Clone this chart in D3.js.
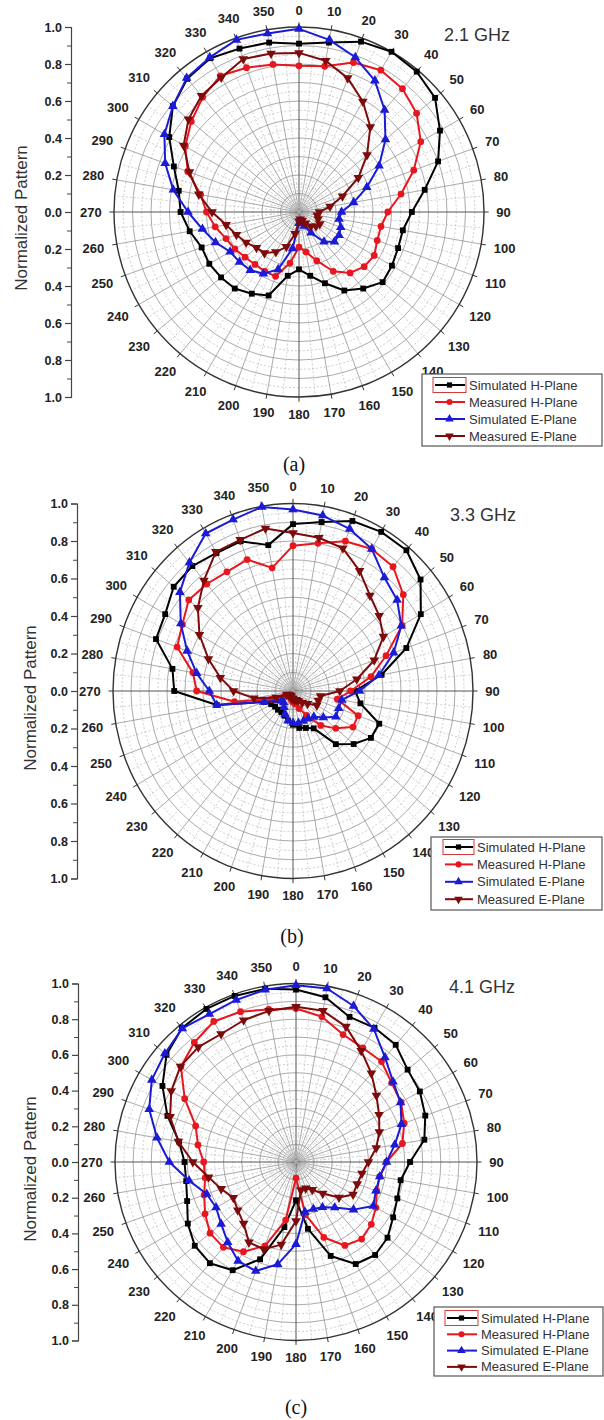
<!DOCTYPE html>
<html><head><meta charset="utf-8">
<script src="https://cdn.jsdelivr.net/npm/d3@7/dist/d3.min.js"></script>
<style>body{margin:0;background:#fff} svg{display:block}</style>
</head><body>
<svg id="chart" width="604" height="1420"></svg>
<script>
// ---------- DATA ----------
const angleDeg = [0,10,20,30,40,50,60,70,80,90,100,110,120,130,140,150,160,170,180,190,200,210,220,230,240,250,260,270,280,290,300,310,320,330,340,350];
const radialTickValues = [-1,-0.8,-0.6,-0.4,-0.2,0,0.2,0.4,0.6,0.8,1];
const seriesNames = ["Simulated H-Plane","Measured H-Plane","Simulated E-Plane","Measured E-Plane"];
const freqLabels = ["2.1 GHz","3.3 GHz","4.1 GHz"];
const captions = ["(a)","(b)","(c)"];
const axisTitle = "Normalized Pattern";

// (a) 2.1 GHz
const simH_a  = [0.91,0.93,0.98,1.0,0.99,0.96,0.88,0.80,0.69,0.61,0.57,0.57,0.58,0.59,0.54,0.49,0.41,0.35,0.31,0.35,0.48,0.51,0.54,0.55,0.56,0.56,0.60,0.64,0.66,0.72,0.81,0.89,0.94,0.96,0.94,0.93];
const measH_a = [0.79,0.80,0.86,0.885,0.87,0.83,0.76,0.66,0.56,0.48,0.45,0.45,0.47,0.46,0.43,0.37,0.28,0.22,0.19,0.28,0.37,0.37,0.37,0.38,0.40,0.42,0.46,0.50,0.54,0.64,0.71,0.76,0.81,0.85,0.83,0.81];
const simE_a  = [0.99,0.945,0.89,0.82,0.72,0.61,0.50,0.39,0.30,0.23,0.22,0.24,0.25,0.25,0.21,0.13,0.08,0.05,0.06,0.20,0.33,0.385,0.41,0.42,0.43,0.48,0.53,0.60,0.69,0.77,0.84,0.89,0.945,0.965,0.99,0.98];
const measE_a = [0.86,0.83,0.77,0.69,0.60,0.48,0.37,0.25,0.17,0.11,0.10,0.11,0.13,0.12,0.10,0.07,0.05,0.04,0.05,0.12,0.20,0.25,0.29,0.30,0.33,0.36,0.40,0.47,0.55,0.63,0.72,0.78,0.82,0.84,0.88,0.87];

// (b) 3.3 GHz
const simH_b  = [0.89,0.915,0.965,0.98,0.98,0.925,0.82,0.67,0.50,0.345,0.38,0.51,0.50,0.44,0.37,0.23,0.21,0.20,0.18,0.16,0.14,0.13,0.13,0.13,0.14,0.17,0.43,0.66,0.68,0.81,0.82,0.865,0.87,0.85,0.85,0.79];
const measH_b = [0.775,0.80,0.85,0.875,0.865,0.80,0.70,0.55,0.44,0.32,0.25,0.385,0.385,0.31,0.24,0.15,0.10,0.07,0.06,0.05,0.04,0.03,0.03,0.04,0.06,0.13,0.33,0.535,0.565,0.685,0.71,0.756,0.745,0.734,0.746,0.667];
const simE_b  = [0.968,0.95,0.92,0.875,0.79,0.755,0.695,0.595,0.485,0.37,0.275,0.27,0.275,0.22,0.18,0.17,0.17,0.173,0.17,0.16,0.13,0.10,0.08,0.08,0.10,0.17,0.43,0.465,0.543,0.626,0.72,0.82,0.895,0.97,0.973,0.997];
const measE_b = [0.843,0.83,0.81,0.74,0.665,0.625,0.58,0.48,0.36,0.26,0.155,0.15,0.153,0.106,0.08,0.06,0.05,0.05,0.04,0.04,0.03,0.03,0.03,0.03,0.04,0.10,0.22,0.33,0.41,0.50,0.60,0.69,0.77,0.857,0.858,0.88];

// (c) 4.1 GHz
const simH_c  = [0.966,0.937,0.865,0.868,0.857,0.805,0.79,0.76,0.72,0.63,0.587,0.596,0.62,0.66,0.68,0.66,0.56,0.38,0.215,0.37,0.58,0.70,0.74,0.73,0.69,0.64,0.616,0.616,0.656,0.756,0.852,0.934,0.98,0.99,0.99,0.985];
const measH_c = [0.86,0.826,0.76,0.738,0.735,0.69,0.67,0.636,0.597,0.50,0.47,0.475,0.51,0.543,0.564,0.54,0.45,0.30,0.09,0.33,0.50,0.58,0.624,0.62,0.58,0.54,0.51,0.51,0.55,0.59,0.71,0.83,0.874,0.909,0.896,0.868];
const simE_c  = [0.99,0.987,0.93,0.86,0.765,0.70,0.667,0.62,0.554,0.50,0.47,0.47,0.493,0.415,0.333,0.293,0.28,0.284,0.46,0.582,0.65,0.64,0.587,0.54,0.51,0.525,0.60,0.70,0.78,0.863,0.92,0.946,0.977,0.957,0.966,0.98];
const measE_c = [0.87,0.86,0.807,0.72,0.648,0.58,0.53,0.49,0.45,0.40,0.37,0.36,0.364,0.31,0.23,0.18,0.157,0.16,0.33,0.47,0.52,0.52,0.45,0.42,0.40,0.44,0.49,0.57,0.66,0.74,0.796,0.833,0.84,0.828,0.845,0.86];

// ---------- STYLE / LAYOUT ----------
const seriesStyle = [
  {color:"#000000", symbol:d3.symbolSquare,   rot:0,   size:34},
  {color:"#e8161e", symbol:d3.symbolCircle,   rot:0,   size:36},
  {color:"#1b1bd6", symbol:d3.symbolTriangle, rot:0,   size:40},
  {color:"#7d0b0b", symbol:d3.symbolTriangle, rot:180, size:40}
];
const panels = [
  {cx:299, cy:212,  rx:185, ry:185,   axisX:71, titleX:21, titleY:218,
   freqX:477, freqY:41,  leg:{x:422, y:374,  w:180, h:72, row0:385,  dy:17,   s0:433, s1:466, tx:469},
   capX:294, capY:471,  data:[simH_a, measH_a, simE_a, measE_a]},
  {cx:293, cy:691,  rx:180, ry:187.5, axisX:77, titleX:30, titleY:698,
   freqX:483, freqY:521, leg:{x:431, y:837,  w:171, h:73, row0:847,  dy:17.4, s0:443, s1:474, tx:477},
   capX:292, capY:943,  data:[simH_b, measH_b, simE_b, measE_b]},
  {cx:296, cy:1162, rx:181, ry:178.5, axisX:78, titleX:30, titleY:1169,
   freqX:482, freqY:993, leg:{x:434, y:1307, w:169, h:69, row0:1318, dy:16.3, s0:445, s1:478, tx:481},
   capX:296, capY:1414, data:[simH_c, measH_c, simE_c, measE_c]}
];
const SANS = "'Liberation Sans', Arial, Helvetica, sans-serif";
const SERIF = "'Liberation Serif', 'Times New Roman', serif";

const svg = d3.select("#chart");

function drawPanel(p, idx) {
  const g = svg.append("g");
  const rX = d3.scaleLinear().domain([0,1]).range([0,p.rx]);
  const rY = d3.scaleLinear().domain([0,1]).range([0,p.ry]);
  const ang = d3.scaleLinear().domain([0,360]).range([0,2*Math.PI]);
  const px = (deg,v) => p.cx + rX(v)*Math.sin(ang(deg));
  const py = (deg,v) => p.cy - rY(v)*Math.cos(ang(deg));

  // grid: concentric ellipses
  const grid = g.append("g");
  d3.range(1,20).forEach(i => {
    const v = i/20;
    const major = i % 2 === 0;
    grid.append("ellipse").attr("cx",p.cx).attr("cy",p.cy)
      .attr("rx",rX(v)).attr("ry",rY(v)).attr("fill","none")
      .attr("stroke", major ? "#a0a0a0" : "#c0c0c0")
      .attr("stroke-width", major ? 0.9 : 0.8)
      .attr("stroke-dasharray", major ? null : "2,2");
  });
  // radial lines
  d3.range(0,360,5).forEach(d => {
    const major = d % 10 === 0;
    const axisLine = d % 90 === 0;
    grid.append("line")
      .attr("x1",p.cx).attr("y1",p.cy).attr("x2",px(d,1)).attr("y2",py(d,1))
      .attr("stroke", axisLine ? "#555" : (major ? "#969696" : "#c0c0c0"))
      .attr("stroke-width", axisLine ? 1 : 0.8)
      .attr("stroke-dasharray", major ? null : "2,2");
  });
  // outer boundary + ticks
  grid.append("ellipse").attr("cx",p.cx).attr("cy",p.cy).attr("rx",rX(1)).attr("ry",rY(1))
    .attr("fill","none").attr("stroke","#333").attr("stroke-width",1.4);
  angleDeg.forEach(d => {
    grid.append("line").attr("x1",px(d,1)).attr("y1",py(d,1))
      .attr("x2",px(d,1.025)).attr("y2",py(d,1.025)).attr("stroke","#333").attr("stroke-width",1);
  });

  // angle labels
  angleDeg.forEach(d => {
    const t = ang(d);
    const w = String(d).length * 7.4, h = 10;
    const off = 12 + Math.abs(Math.sin(t))*w/2 + Math.abs(Math.cos(t))*h/2;
    g.append("text").attr("x", p.cx + (p.rx+off)*Math.sin(t)).attr("y", p.cy - (p.ry+off)*Math.cos(t))
      .attr("text-anchor","middle").attr("dominant-baseline","central")
      .attr("font-family",SANS).attr("font-weight","bold").attr("font-size","13px").attr("fill","#222")
      .text(d);
  });

  // series
  p.data.forEach((vals, si) => {
    const st = seriesStyle[si];
    const pts = angleDeg.map((d,i) => [px(d,vals[i]), py(d,vals[i])]);
    g.append("path").attr("d", d3.line().curve(d3.curveLinearClosed)(pts))
      .attr("fill","none").attr("stroke",st.color).attr("stroke-width",2).attr("stroke-linejoin","round");
    const sym = d3.symbol().type(st.symbol).size(st.size);
    g.append("g").selectAll("path").data(pts).join("path")
      .attr("d", sym())
      .attr("transform", q => `translate(${q[0]},${q[1]}) rotate(${st.rot})`)
      .attr("fill", st.color);
  });

  // left axis
  const yAx = d3.scaleLinear().domain([-1,1]).range([p.cy - p.ry, p.cy + p.ry]);
  const ax = g.append("g").attr("transform",`translate(${p.axisX},0)`)
    .call(d3.axisLeft(yAx).tickValues(radialTickValues).tickSize(6).tickPadding(3)
      .tickFormat(v => Math.abs(v).toFixed(1)));
  ax.select(".domain").attr("stroke","#444").attr("stroke-width",1.2);
  ax.selectAll(".tick line").attr("stroke","#444").attr("stroke-width",1.2);
  ax.selectAll(".tick text").attr("font-family",SANS).attr("font-weight","bold")
    .attr("font-size","12.5px").attr("fill","#222");
  const axm = g.append("g").attr("transform",`translate(${p.axisX},0)`)
    .call(d3.axisLeft(yAx).tickValues(d3.range(-0.9,1,0.2)).tickSize(4).tickFormat(""));
  axm.select(".domain").remove();
  axm.selectAll(".tick line").attr("stroke","#444");

  g.append("text").attr("transform",`translate(${p.titleX},${p.titleY}) rotate(-90)`)
    .attr("text-anchor","middle").attr("dominant-baseline","central")
    .attr("font-family",SANS).attr("font-size","17px").attr("fill","#333").text(axisTitle);

  // frequency
  g.append("text").attr("x",p.freqX).attr("y",p.freqY).attr("text-anchor","middle")
    .attr("font-family",SANS).attr("font-size","18px").attr("fill","#333").text(freqLabels[idx]);

  // legend
  const L = p.leg;
  const lg = g.append("g");
  lg.append("rect").attr("x",L.x).attr("y",L.y).attr("width",L.w).attr("height",L.h)
    .attr("fill","#fff").attr("stroke","#555").attr("stroke-width",1.2);
  seriesNames.forEach((name, si) => {
    const st = seriesStyle[si];
    const yy = L.row0 + si*L.dy;
    if (si === 0) {
      lg.append("rect").attr("x",L.s0).attr("y",yy-7.5).attr("width",L.s1-L.s0).attr("height",15)
        .attr("fill","none").attr("stroke","#d23a3a").attr("stroke-width",1);
    }
    lg.append("line").attr("x1",L.s0+2).attr("x2",L.s1-1).attr("y1",yy).attr("y2",yy)
      .attr("stroke",st.color).attr("stroke-width",2);
    lg.append("path").attr("d", d3.symbol().type(st.symbol).size(st.size*0.8)())
      .attr("transform",`translate(${(L.s0+L.s1)/2},${yy}) rotate(${st.rot})`).attr("fill",st.color);
    lg.append("text").attr("x",L.tx).attr("y",yy).attr("dominant-baseline","central")
      .attr("font-family",SANS).attr("font-size","13px").attr("fill","#333").text(name);
  });

  // caption
  g.append("text").attr("x",p.capX).attr("y",p.capY).attr("text-anchor","middle")
    .attr("font-family",SERIF).attr("font-size","20px").attr("fill","#111").text(captions[idx]);
}

panels.forEach((p,i) => drawPanel(p,i));
</script>
</body></html>
